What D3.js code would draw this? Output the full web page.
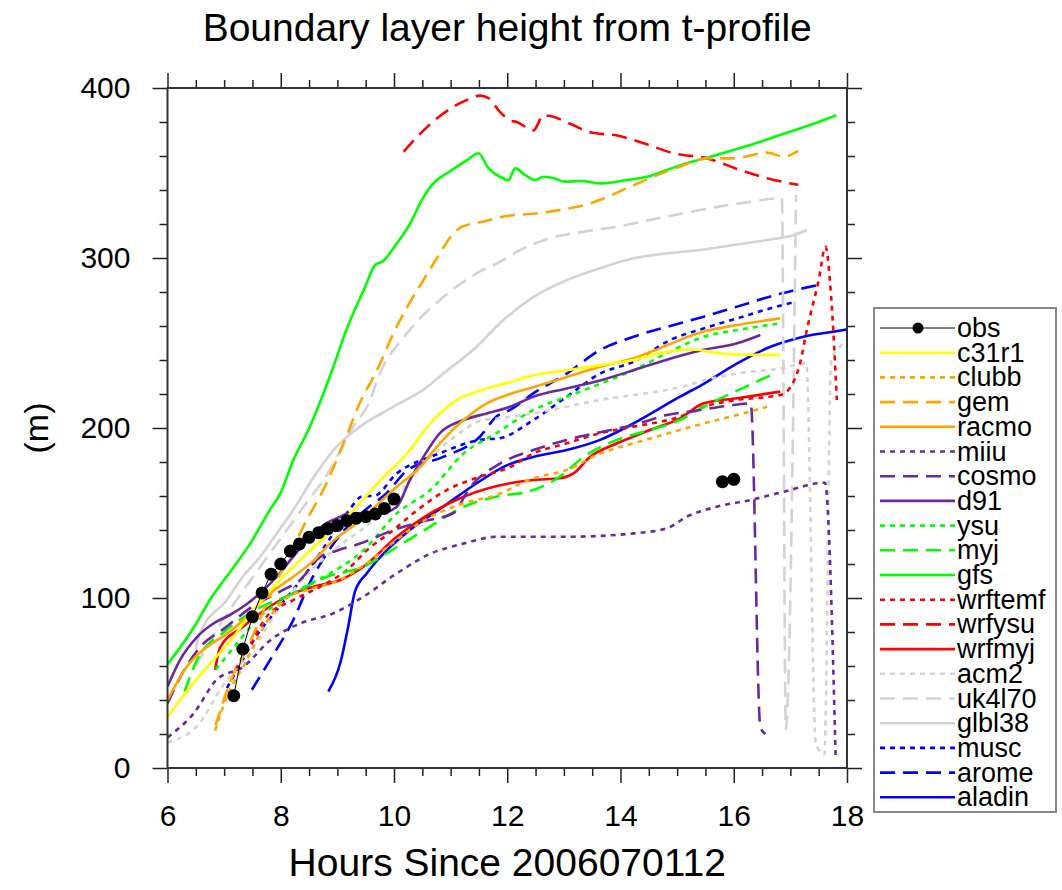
<!DOCTYPE html>
<html>
<head>
<meta charset="utf-8">
<script src="https://cdn.jsdelivr.net/npm/d3@7"></script>
<style>
  body { margin: 0; background: #fff; }
  svg { display: block; font-family: "Liberation Sans", Arial, Helvetica, sans-serif; }
</style>
</head>
<body>
<div id="chart"></div>
<script>
// boundary layer height (m) vs hours since 2006070112
var obs = [[7.17,42.5],[7.33,70],[7.5,89],[7.67,103],[7.83,114],[8.0,120],[8.17,127.6],[8.33,131.8],[8.5,135.7],
  [8.67,138.4],[8.83,140.8],[9.0,142.7],[9.17,145.5],[9.33,146.9],[9.5,147.9],[9.67,149.4],[9.83,152.7],[10.0,158.2],
  null,[15.8,168.4],[16.0,169.8]];
var c31r1 = [[6,30],[6.22,40],[6.46,50],[6.81,63.5],[7.16,77],[7.52,93],[7.87,106.6],[8.22,118.4],[8.58,130],[8.93,140],
  [9.34,153.7],[9.75,169],[10.23,185],[10.64,202.7],[11.11,216.5],[11.52,222],[12.05,227],[12.46,231],[13.05,234],
  [13.64,237],[14.23,240],[14.7,244],[15.23,246.3],[15.76,244],[16.35,243],[16.82,243]];
var clubb = [[6.84,22],[7.05,42],[7.4,63.5],[7.63,79],[8.1,100],[8.46,104.7],[9,110],[9.5,120],[10,133],[10.5,145],
  [11.23,155.7],[11.81,160.6],[12.46,170.4],[13.05,175.3],[13.64,185],[14.23,191],[15.05,198.8],[15.47,202.7],
  [16.06,207.6],[16.59,212.5]];
var gem = [[6.85,25],[7.1,50],[7.4,70],[7.6,85],[7.87,106],[8.11,122],[8.46,146],[8.75,163.5],[9.11,191],[9.4,215],
  [9.7,234],[9.99,255.7],[10.23,271],[10.52,287],[10.81,302.7],[11.05,314.5],[11.2,318.4],[11.52,321],[12.05,325],
  [12.46,326],[12.88,328],[13.35,331],[13.7,335],[14.11,341],[14.58,347.8],[15.05,353.7],[15.53,358.6],[15.99,358.6],
  [16.59,362],[16.88,359.6],[17.14,363]];
var racmo = [[6,40],[6.34,59.6],[6.69,71],[7.05,79],[7.4,89],[7.81,102.7],[8.22,112.5],[8.58,122],[8.87,132],[9.34,144],
  [10.05,165.5],[10.46,177],[10.81,191],[11.23,204.7],[11.64,214.5],[12.05,220],[12.46,224],[13.05,230],[13.64,236],
  [14.23,241],[14.7,247],[15.05,251.8],[15.47,256.7],[16.06,260.6],[16.82,264.5]];
var miiu = [[6,18],[6.46,32],[6.87,52],[7.34,59.6],[7.81,75],[8.34,85],[8.93,91],[9.46,100.8],[10.05,114.5],[10.64,126],
  [11.23,132],[11.81,136],[13.05,136],[14.23,138],[14.82,141],[15.17,147.8],[15.7,153.7],[16.29,157.6],[16.88,162.5],
  [17.61,167.8],[17.8,5]];
var cosmo = [[6,38],[6.3,58],[6.6,72],[7,82],[7.5,95],[8,104],[8.34,110.6],[8.69,124],[9.0,128],[9.4,132],[9.99,140],
  [10.5,145],[11.05,150],[11.34,165],[11.87,179],[12.46,187],[13.05,193],[13.64,197.5],[14.23,201.8],[14.82,207.6],
  [15.41,210.6],[15.99,213.5],[16.3,214.5],[16.47,24],[16.56,20]];
var d91 = [[6,48],[6.22,63.5],[6.52,77],[6.81,85],[7.1,90],[7.34,95],[7.63,102.7],[7.93,112.5],[8.22,124.3],[8.52,136],
  [8.81,144],[9.05,147.8],[9.22,149.8],[9.75,149.8],[10.05,153.7],[10.28,169.4],[10.52,183],[10.81,197],[11.23,204.7],
  [11.64,208.6],[12.05,212.5],[12.46,218.4],[13.05,223.3],[13.64,228],[14.23,234],[14.7,239],[15.47,246],[16.06,249.8],
  [16.47,254.7]];
var ysu = [[6.85,58],[7.2,72],[7.6,88],[8,98],[8.5,108],[8.87,114.5],[9.46,128],[10.05,149.8],[10.64,163.5],[11.23,185],
  [11.81,197],[12.46,210.6],[13.05,218.4],[13.64,226],[14.23,234],[14.82,244],[15.47,253.7],[16.06,257.6],[16.82,261.6]];
var myj = [[6.3,45],[6.52,63.5],[7,80],[7.5,92],[8.22,102.7],[8.81,112.5],[9.46,118.4],[10.05,130],[10.64,142],
  [11.23,153.7],[11.81,159.6],[12.46,163.5],[12.93,171.4],[13.35,183],[13.94,193],[14.52,198.8],[15.05,204.7],
  [15.47,212.5],[16.06,222],[16.65,231]];
var gfs = [[6,61],[6.49,84],[6.75,99],[7.13,116.5],[7.46,132],[7.81,152],[8,162],[8.22,181],[8.49,199],[8.93,236],
  [9.14,256],[9.49,283],[9.67,296],[9.8,298],[10.05,308.6],[10.28,320],[10.49,334],[10.67,343],[10.99,351],[11.29,357.6],
  [11.49,361.6],[11.67,352.7],[11.87,347.8],[12.02,345.9],[12.14,352.7],[12.32,348.8],[12.49,345.9],[12.64,347.8],
  [12.82,346.9],[13.02,344.9],[13.29,345.3],[13.67,343.9],[14.11,345.9],[14.47,347.8],[14.82,351.8],[15.17,355.7],
  [15.59,359.6],[15.99,363.5],[16.47,368.4],[16.94,373.7],[17.41,379],[17.81,384]];
var wrftemf = [[7.2,58],[7.5,75],[7.75,89],[8.22,98.8],[8.69,106.6],[9.17,116.5],[9.52,128],[9.99,140],[10.34,149.8],
  [10.93,163.5],[11.52,171.4],[12.05,177],[12.46,185],[13.05,191],[13.64,197],[14.23,200.8],[15.05,206.7],[15.47,212.5],
  [16.06,216.5],[16.82,219.4],[17.0,224],[17.17,238],[17.29,257.6],[17.5,287],[17.62,306.6],[17.72,277],[17.82,216.5]];
var wrfysu = [[10.17,362.5],[10.46,373],[10.87,385],[11.29,393],[11.52,395.5],[11.67,394],[11.87,386],[12.05,381],
  [12.17,380],[12.46,375],[12.64,384],[12.76,383.5],[13.11,379],[13.46,374],[13.94,372],[14.41,367.5],[14.94,361.6],
  [15.53,358.6],[16.11,351.8],[16.59,346.9],[17.14,343]];
var wrfmyj = [[6.84,57.6],[6.93,71],[7.33,83],[7.81,95],[8.22,102.7],[8.58,106.6],[9.05,110.6],[9.46,118.4],[10.05,136],
  [10.64,149.8],[11.23,159.6],[12.05,167.5],[12.46,169.4],[12.93,170.4],[13.17,173.3],[13.46,183],[13.94,191],
  [14.52,198.8],[15.05,205.7],[15.47,214.5],[16.06,217.5],[16.82,221.4]];
var acm2 = [[6,15],[6.57,26.5],[6.93,46],[7.5,70],[8,95],[8.5,115],[9,130],[9.5,142],[10,158],[10.5,178],[11,193],
  [11.58,204.7],[11.87,205.7],[12.46,208.6],[13.05,212.5],[13.64,216.5],[14.23,219.4],[15.05,224],[15.47,228],
  [16.06,232],[16.82,235],[17.28,238],[17.45,14],[17.6,8],[17.72,240],[17.88,248],[18,252]];
var uk4l70 = [[6.5,60],[7,88],[7.5,112],[8,135],[8.5,158],[8.75,169],[9.28,200.8],[9.58,216.5],[9.7,228],[10.23,255.7],
  [10.87,277],[11.46,291],[11.87,297.8],[12.23,304.7],[12.76,311.6],[13.35,315.5],[13.94,318.4],[14.52,322.4],
  [15.11,326.3],[15.7,330],[16.29,333],[16.76,335],[16.85,335],[16.92,23],[17.1,337]];
var glbl38 = [[6.5,70],[6.57,79],[7.05,99],[7.33,112.5],[7.63,124],[7.93,138],[8.22,151.8],[8.58,171],[8.93,187],
  [9.4,200.8],[9.99,212.5],[10.58,224],[10.87,232],[11.46,247.8],[11.87,261.6],[12.46,277],[13.05,287],[13.64,294],
  [14.23,299.8],[14.82,302.7],[15.41,304.7],[15.99,307.6],[16.59,310.6],[17.06,313.5],[17.29,316.5]];
var musc = [[7.05,47],[7.3,62],[7.52,75],[7.93,93],[8.4,112.5],[8.81,132],[9.17,150],[9.46,160],[9.64,160],[10.05,173.3],
  [10.8,185],[11.52,193],[11.87,194],[12.46,204.7],[13.05,218.4],[13.64,232],[14.23,239],[14.88,251.8],[15.47,258.6],
  [16.06,264.5],[16.65,270.4],[17.09,274.3]];
var arome = [[7.49,46],[7.81,63.5],[8.22,87],[8.5,108],[9,135],[9.5,152],[9.87,161.6],[10.23,175],[10.87,183],
  [11.52,195],[11.81,206.7],[12.05,210.6],[12.46,220.4],[13.05,232],[13.64,245.9],[14.23,253.7],[15.05,261.6],
  [15.47,265.5],[16.06,271.4],[16.82,279],[17.47,284]];
var aladin = [[8.84,45],[9.05,61.6],[9.19,83],[9.31,103.7],[9.52,114.5],[9.87,128],[10.28,140],[10.87,153.7],
  [11.46,167.5],[11.99,178],[12.46,183],[13.05,187],[13.64,193],[14.23,202.7],[15.05,218.4],[15.47,226],[16.06,238],
  [16.65,247.8],[17.23,253.7],[17.94,257.6],[18,258]];

var names = ['obs','c31r1','clubb','gem','racmo','miiu','cosmo','d91','ysu','myj','gfs','wrftemf','wrfysu','wrfmyj',
  'acm2','uk4l70','glbl38','musc','arome','aladin'];
var seriesData = [obs,c31r1,clubb,gem,racmo,miiu,cosmo,d91,ysu,myj,gfs,wrftemf,wrfysu,wrfmyj,acm2,uk4l70,glbl38,musc,arome,aladin];
var xTicks = [6,8,10,12,14,16,18];
var yTicks = [0,100,200,300,400];

// styles, one per series
var colors = ['#000000','#ffff00','#ffa500','#ffa500','#ffa500','#6a2a9e','#6a2a9e','#6a2a9e','#00ff00','#00ff00','#00ff00',
  '#ff0000','#ff0000','#ff0000','#d3d3d3','#d3d3d3','#d3d3d3','#0000ff','#0000ff','#0000ff'];
var dotted = '5,5', dashed = '15,8';
var dashes = [null,null,dotted,dashed,null,dotted,dashed,null,dotted,dashed,null,dotted,dashed,null,dotted,dashed,null,dotted,dashed,null];

(function() {
  var W = 1062, H = 890;
  var left = 167.5, right = 847, top = 88, bottom = 768;
  var svg = d3.select('#chart').append('svg').attr('width', W).attr('height', H);

  var x = d3.scaleLinear().domain([6, 18]).range([left, right]);
  var y = d3.scaleLinear().domain([0, 400]).range([bottom, top]);

  svg.append('defs').append('clipPath').attr('id', 'clip')
    .append('rect').attr('x', left).attr('y', top - 10).attr('width', right - left).attr('height', bottom - top + 10);

  // lines, drawn in reverse legend order so obs ends on top
  var line = d3.line()
    .defined(function(d) { return d !== null; })
    .x(function(d) { return x(d[0]); })
    .y(function(d) { return y(d[1]); })
    .curve(d3.curveMonotoneX);

  var g = svg.append('g').attr('clip-path', 'url(#clip)');
  for (var i = seriesData.length - 1; i >= 1; i--) {
    g.append('path')
      .attr('d', line(seriesData[i]))
      .attr('fill', 'none')
      .attr('stroke', colors[i])
      .attr('stroke-width', 2.6)
      .attr('stroke-dasharray', dashes[i]);
  }
  g.append('path')
    .attr('d', d3.line().defined(function(d) { return d !== null; })
      .x(function(d) { return x(d[0]); }).y(function(d) { return y(d[1]); })(obs))
    .attr('fill', 'none').attr('stroke', '#000').attr('stroke-width', 1);
  g.selectAll('circle.obs').data(obs.filter(function(d) { return d !== null; }))
    .enter().append('circle')
    .attr('cx', function(d) { return x(d[0]); })
    .attr('cy', function(d) { return y(d[1]); })
    .attr('r', 6.5).attr('fill', '#000');

  // axes, ticks outward on all four sides
  var xMinor = d3.range(6, 18.01, 0.5).filter(function(v) { return v % 2 !== 0; });
  var yMinor = d3.range(0, 400.1, 20).filter(function(v) { return v % 100 !== 0; });

  svg.append('g').attr('transform', 'translate(0,' + bottom + ')')
    .call(d3.axisBottom(x).tickValues(xTicks).tickSize(15).tickPadding(22).tickFormat(d3.format('d')));
  svg.append('g').attr('transform', 'translate(0,' + bottom + ')')
    .call(d3.axisBottom(x).tickValues(xMinor).tickSize(8).tickFormat(''));
  svg.append('g').attr('transform', 'translate(0,' + top + ')')
    .call(d3.axisTop(x).tickValues(xTicks).tickSize(15).tickFormat(''));
  svg.append('g').attr('transform', 'translate(0,' + top + ')')
    .call(d3.axisTop(x).tickValues(xMinor).tickSize(8).tickFormat(''));
  svg.append('g').attr('transform', 'translate(' + left + ',0)')
    .call(d3.axisLeft(y).tickValues(yTicks).tickSize(15).tickPadding(22).tickFormat(d3.format('d')));
  svg.append('g').attr('transform', 'translate(' + left + ',0)')
    .call(d3.axisLeft(y).tickValues(yMinor).tickSize(8).tickFormat(''));
  svg.append('g').attr('transform', 'translate(' + right + ',0)')
    .call(d3.axisRight(y).tickValues(yTicks).tickSize(15).tickFormat(''));
  svg.append('g').attr('transform', 'translate(' + right + ',0)')
    .call(d3.axisRight(y).tickValues(yMinor).tickSize(8).tickFormat(''));

  svg.selectAll('.domain').remove();
  svg.selectAll('.tick line').attr('stroke', '#222').attr('stroke-width', 1.5);
  svg.selectAll('.tick text').attr('fill', '#000').style('font-size', '30px')
    .style('font-family', '"Liberation Sans", Arial, sans-serif');

  svg.append('rect')
    .attr('x', left).attr('y', top).attr('width', right - left).attr('height', bottom - top)
    .attr('fill', 'none').attr('stroke', '#333').attr('stroke-width', 2);

  // titles
  svg.append('text').attr('x', (left + right) / 2).attr('y', 41)
    .attr('text-anchor', 'middle').style('font-size', '39px')
    .text('Boundary layer height from t-profile');
  svg.append('text').attr('x', (left + right) / 2).attr('y', 876)
    .attr('text-anchor', 'middle').style('font-size', '39px')
    .text('Hours Since 2006070112');
  svg.append('text')
    .attr('transform', 'translate(48,' + (top + bottom) / 2 + ') rotate(-90)')
    .attr('text-anchor', 'middle').style('font-size', '34px')
    .text('(m)');

  // legend
  var lx = 874, ly = 308, lw = 182, lh = 504, step = 24.7;
  var leg = svg.append('g');
  leg.append('rect').attr('x', lx).attr('y', ly).attr('width', lw).attr('height', lh)
    .attr('fill', '#fff').attr('stroke', '#888').attr('stroke-width', 2);
  names.forEach(function(n, k) {
    var yy = 328 + k * step;
    leg.append('line').attr('x1', 880).attr('x2', 955).attr('y1', yy).attr('y2', yy)
      .attr('stroke', colors[k]).attr('stroke-width', k === 0 ? 1 : 2.6)
      .attr('stroke-dasharray', dashes[k]);
    if (k === 0) leg.append('circle').attr('cx', 918).attr('cy', yy).attr('r', 5.5).attr('fill', '#000');
    leg.append('text').attr('x', 957).attr('y', yy + 9).style('font-size', '27px').text(n);
  });
})();
</script>
</body>
</html>
